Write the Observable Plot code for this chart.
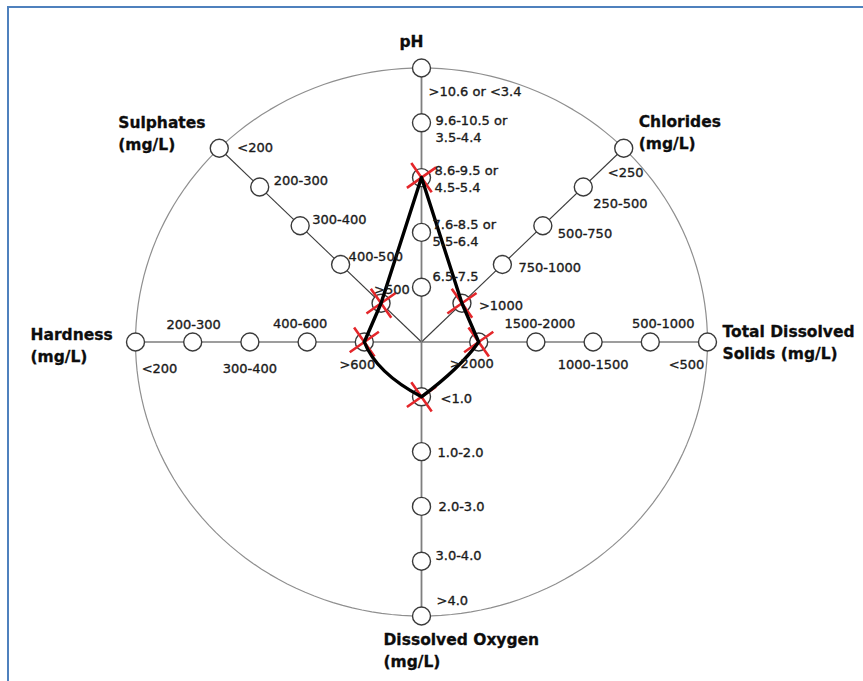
<!DOCTYPE html>
<html><head><meta charset="utf-8">
<script src="https://cdn.jsdelivr.net/npm/d3@7"></script>
<script src="https://cdn.jsdelivr.net/npm/@observablehq/plot@0.6"></script>
<style>
html,body{margin:0;padding:0;background:#fff;}
#wrap{position:relative;width:863px;height:681px;overflow:hidden;background:#fff;}
#chart{position:absolute;left:0;top:0;}
#frame{position:absolute;left:7px;top:6px;right:-4px;bottom:-4px;border-left:2px solid #4f81bd;border-top:2px solid #4f81bd;pointer-events:none;}
</style></head><body>
<div id="wrap"><div id="chart"></div><div id="frame"></div></div>
<script>
// ---------- data ----------
const axisNames = ["pH", "Chlorides", "Total Dissolved Solids", "Dissolved Oxygen", "Hardness", "Sulphates"];
const axisTitles = ["pH", "Chlorides\n(mg/L)", "Total Dissolved\nSolids (mg/L)", "Dissolved Oxygen\n(mg/L)", "Hardness\n(mg/L)", "Sulphates\n(mg/L)"];
// class labels on each spoke, from the centre outwards
const phClasses = ["6.5-7.5", "7.6-8.5 or\n5.5-6.4", "8.6-9.5 or\n4.5-5.4", "9.6-10.5 or\n3.5-4.4", ">10.6 or <3.4"];
const chlorideClasses = [">1000", "750-1000", "500-750", "250-500", "<250"];
const tdsClasses = [">2000", "1500-2000", "1000-1500", "500-1000", "<500"];
const oxygenClasses = ["<1.0", "1.0-2.0", "2.0-3.0", "3.0-4.0", ">4.0"];
const hardnessClasses = [">600", "400-600", "300-400", "200-300", "<200"];
const sulphateClasses = [">500", "400-500", "300-400", "200-300", "<200"];
// observed (marked) class on each axis
const observedClasses = ["8.6-9.5 or\n4.5-5.4", ">1000", ">2000", "<1.0", ">600", ">500"];

// ---------- layout ----------
const classLists = [phClasses, chlorideClasses, tdsClasses, oxygenClasses, hardnessClasses, sulphateClasses];
const axisAngle = [90, 45, 0, -90, 180, 135];
const labelOffsets = [
  [[11,-12,"start"],[11,0,"start"],[13,0,"start"],[14,5,"start"],[7,22,"start"]],
  [[17,1,"start"],[16,2,"start"],[15,7,"start"],[10,15,"start"],[-16,23,"start"]],
  [[-7,20,"middle"],[4,-20,"middle"],[0,21,"middle"],[13,-20,"middle"],[-21,21,"middle"]],
  [[19,1,"start"],[16,0,"start"],[17,-1,"start"],[14,-7,"start"],[15,-17,"start"]],
  [[-7,21,"middle"],[-7,-20,"middle"],[0,25,"middle"],[1,-19,"middle"],[24,25,"middle"]],
  [[-7,-15,"start"],[8,-9,"start"],[12,-7,"start"],[14,-8,"start"],[18,-2,"start"]]
];
const titleOffsets = [[-10,-28,"middle"],[15,-17,"start"],[15,-1,"start"],[-38,33,"start"],[-105,2,"start"],[-101,-16,"start"]];
const rings = 5;
// hand-drawn look of the outline: per segment [max bulge px (to the right of travel), position along segment]
const segmentBulge = [[0,0.5],[0,0.5],[7,0.38],[3,0.6],[0,0.5],[0,0.5]];

function handCurve(bulges) {
  return function(context) {
    let pts = [];
    return {
      areaStart() {}, areaEnd() {},
      lineStart() { pts = []; },
      point(x, y) { pts.push([+x, +y]); },
      lineEnd() {
        if (!pts.length) return;
        context.moveTo(pts[0][0], pts[0][1]);
        for (let i = 1; i < pts.length; ++i) {
          const [x0, y0] = pts[i - 1], [x1, y1] = pts[i];
          const [b, t] = bulges[i - 1] || [0, 0.5];
          if (!b) { context.lineTo(x1, y1); continue; }
          const dx = x1 - x0, dy = y1 - y0, L = Math.hypot(dx, dy) || 1;
          const cx = x0 + dx * t + (-dy / L) * b * 2;
          const cy = y0 + dy * t + (dx / L) * b * 2;
          context.quadraticCurveTo(cx, cy, x1, y1);
        }
      }
    };
  };
}

const rad = a => a * Math.PI / 180;
const nodes = [];
axisNames.forEach((axis, i) => {
  classLists[i].forEach((label, k) => {
    const r = (k + 1) / rings;
    nodes.push({axis, ai: i, k, label, x: Math.cos(rad(axisAngle[i])) * r, y: Math.sin(rad(axisAngle[i])) * r});
  });
});
const spokes = axisNames.map((axis, i) => ({axis, x1: 0, y1: 0, x2: Math.cos(rad(axisAngle[i])), y2: Math.sin(rad(axisAngle[i])), vertical: Math.abs(axisAngle[i]) === 90}));
const observed = axisNames.map((axis, i) => nodes.find(n => n.ai === i && n.label === observedClasses[i]));
const loopOrder = [0, 5, 4, 3, 2, 1, 0];
const loop = loopOrder.map(i => observed[i]);
const ellipse = d3.range(0, 361, 2).map(a => ({x: Math.cos(rad(a)), y: Math.sin(rad(a))}));

const LABEL_FONT = "DejaVu Sans, Verdana, sans-serif";
const marks = [
  Plot.line(ellipse, {x: "x", y: "y", stroke: "#8f8f8f", strokeWidth: 1.2}),
  Plot.link(spokes.filter(s => !s.vertical), {x1: "x1", y1: "y1", x2: "x2", y2: "y2", stroke: "#3c3c3c", strokeWidth: 1.1}),
  Plot.link(spokes.filter(s => s.vertical), {x1: "x1", y1: "y1", x2: "x2", y2: "y2", stroke: "#7f7f7f", strokeWidth: 1.8}),
  Plot.dot(nodes, {x: "x", y: "y", r: 9, fill: "white", stroke: "#3a3a3a", strokeWidth: 1.4}),
  Plot.dot(observed, {x: "x", y: "y", symbol: "times", r: 11.5, stroke: "#e4262a", strokeWidth: 2.6, rotate: 10}),
  Plot.line(loop, {x: "x", y: "y", curve: handCurve(segmentBulge), stroke: "black", strokeWidth: 3.4, strokeLinejoin: "round"})
];
nodes.forEach(n => {
  const [dx, dy, anchor] = labelOffsets[n.ai][n.k];
  marks.push(Plot.text([n], {x: "x", y: "y", text: "label", dx, dy, textAnchor: anchor, lineAnchor: "middle",
    lineHeight: 1.32, fontSize: 13, fontFamily: LABEL_FONT, fill: "#1a1a1a", stroke: "#1a1a1a", strokeWidth: 0.35}));
});
axisNames.forEach((axis, i) => {
  const outer = nodes.find(n => n.ai === i && n.k === rings - 1);
  const [dx, dy, anchor] = titleOffsets[i];
  marks.push(Plot.text([{x: outer.x, y: outer.y, t: axisTitles[i]}], {x: "x", y: "y", text: "t", dx, dy, textAnchor: anchor,
    lineAnchor: "middle", lineHeight: 1.42, fontSize: 15.5, fontWeight: "bold", fontFamily: LABEL_FONT, fill: "#0d0d0d", stroke: "#0d0d0d", strokeWidth: 0.3}));
});

const chart = Plot.plot({
  width: 863,
  height: 681,
  x: {domain: [-1, 1], range: [135, 707], axis: null},
  y: {domain: [-1, 1], range: [615.5, 67.5], axis: null},
  style: {background: "transparent", overflow: "visible"},
  marks
});
document.getElementById("chart").appendChild(chart);
</script>
</body></html>
